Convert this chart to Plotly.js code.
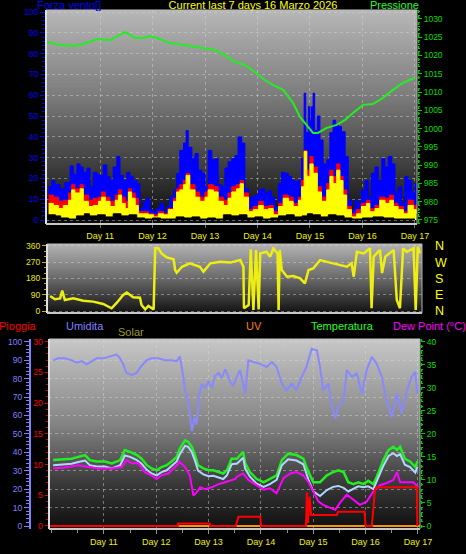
<!DOCTYPE html>
<html><head><meta charset="utf-8">
<script src="https://cdn.plot.ly/plotly-3.0.1.min.js"></script>
<style>html,body{margin:0;padding:0;background:#000;}#chart{width:466px;height:554px;}</style>
</head><body><div id="chart"></div>
<script>
// ---------- DATA ----------
const dayTicks = [11,12,13,14,15,16,17];
const dayLabels = ['Day 11','Day 12','Day 13','Day 14','Day 15','Day 16','Day 17'];

// Wind speed (max gust, blue)
const gustDays = [10.02,10.08,10.14,10.24,10.33,10.43,10.49,10.56,10.62,10.68,10.75,10.81,10.87,10.94,11.00,11.06,11.13,11.19,11.25,11.32,11.38,11.44,11.51,11.57,11.63,11.70,11.76,11.83,11.89,11.95,12.02,12.08,12.14,12.21,12.27,12.33,12.40,12.46,12.52,12.59,12.64,12.68,12.75,12.81,12.87,12.94,13.00,13.06,13.13,13.19,13.25,13.32,13.38,13.44,13.51,13.57,13.63,13.70,13.76,13.83,13.89,13.95,14.02,14.08,14.14,14.21,14.27,14.33,14.40,14.46,14.52,14.59,14.65,14.71,14.78,14.84,14.89,14.92,14.97,15.00,15.03,15.06,15.09,15.14,15.19,15.25,15.32,15.38,15.44,15.49,15.54,15.60,15.67,15.73,15.79,15.86,15.92,15.98,16.05,16.11,16.17,16.24,16.30,16.37,16.43,16.49,16.56,16.62,16.68,16.75,16.81,16.87,16.94,17.00,17.03];
const gustVals = [16,19,17,15,18,26,22,27,25.5,23,25,16,23,22,21.5,26.5,21,19,25.5,30.5,21.5,19,23,21,19,17.5,5.5,9,10.5,5,4,5.5,8,4,6.5,11,14.5,22.5,33.5,37,43,35,29.5,32,24,22.5,16,33.5,29,29.5,17,16,25,28,29.5,31,40,37,15,11,11,12,14.5,15,13,14,11,6.5,17.5,23,22.5,21,19,18.5,19,29.5,61,42,54.5,48,54.5,61,43,50,38.5,27,29,42,48,46,45,42.5,30.5,9.5,5,9.5,8,14.5,19,11,22.5,25.5,19,29.5,25.5,30.5,27,13,16,8,21,19,13,17.5,6.5];

// Wind speed (red = max speed, yellow = average)
const speedDays = [10.02,10.11,10.21,10.30,10.40,10.46,10.52,10.62,10.68,10.78,10.87,10.97,11.03,11.10,11.19,11.29,11.35,11.41,11.48,11.54,11.60,11.67,11.73,11.83,11.92,12.02,12.11,12.21,12.30,12.40,12.46,12.52,12.59,12.64,12.71,12.81,12.90,13.00,13.06,13.16,13.25,13.35,13.44,13.51,13.60,13.67,13.73,13.83,13.92,14.02,14.11,14.21,14.30,14.40,14.49,14.59,14.68,14.78,14.84,14.89,14.94,15.00,15.06,15.14,15.22,15.32,15.38,15.44,15.51,15.57,15.63,15.70,15.79,15.89,15.98,16.08,16.14,16.24,16.33,16.43,16.52,16.59,16.68,16.78,16.87,16.97,17.03];
const maxSpeedVals = [12,11,9,9.5,13,17,15,17,12,9.5,10.5,11,13.5,11,9,12,14.5,11,9,15,13,10.5,4,4,3,2.5,4,3,5.5,10.5,15,17,19,22.5,17,13.5,11,13.5,17,16,11,9.5,13,16,17,19,13,5,6.5,9,6.5,7,4,8,12,11,8,11,19,33.5,24,30.5,25.5,16,11,17.5,24,21,27,21,14.5,6.5,3,5,8,9.5,5.5,7,11,10.5,12,8,6.5,4,9.5,7,5];
const avgSpeedVals = [8,7,5.5,7,9.5,14.5,13,15,9,6.5,7,9,11,9,6.5,9.5,12,8,5.5,13.5,10.5,7,3,3,2.5,1.5,3,2.5,5,9,13.5,14.5,17,21.5,14.5,11,9,11,14.5,13.5,9,7,10.5,13.5,15,17.5,11,4,5,7,5,5.5,2.5,6.5,10.5,9,6.5,9.5,16,33,21,27,22.5,13.5,9,14.5,21,17.5,24,19,12,5,1.5,3,6.5,8,4,5.5,9.5,8,9.5,6.5,5,3,7,5,3];

// Wind speed (black = minimum)
const minDays = [10.00,10.15,10.25,10.40,10.55,10.70,10.80,10.95,11.10,11.25,11.40,11.55,11.70,11.85,12.00,12.15,12.30,12.45,12.60,12.75,12.90,13.05,13.20,13.35,13.50,13.65,13.80,13.95,14.10,14.25,14.40,14.55,14.70,14.85,14.95,15.05,15.20,15.35,15.50,15.65,15.80,16.00,16.20,16.40,16.60,16.80,17.00];
const minVals = [2.5,2,1,0.5,2,3,2,2.5,1.5,3,2,2.5,1,0.5,1,0.5,0.5,1.5,1,1.5,0.5,1,0.5,2.5,2,2.5,1,1.5,0.5,1,2,2.5,1.5,2,3,2.5,1.5,2.5,2,1,0.5,1,1.5,1,0.5,0.5,0.5];

// Pressure (hPa)
const pressDays = [9.99,10.24,10.52,10.81,10.94,11.19,11.48,11.67,11.82,11.95,12.09,12.33,12.62,12.90,13.19,13.38,13.57,13.76,13.95,14.14,14.30,14.49,14.68,14.81,14.94,15.06,15.15,15.32,15.51,15.67,15.82,16.01,16.20,16.39,16.58,16.77,16.90,17.00];
const pressVals = [1023.7,1022.9,1022.6,1023.7,1024.5,1024.2,1026.4,1024.8,1024.8,1025.3,1024.8,1023.4,1022.9,1022.3,1021.5,1020.1,1018.2,1017.4,1015.5,1013.3,1011.9,1010.6,1007.0,1003.2,1001.0,998.8,998.8,1000.2,1001.0,1002.4,1004.3,1006.5,1006.7,1008.4,1010.6,1012.5,1013.3,1013.9];

// Wind direction (degrees)
const dirDays = [10.05,10.14,10.24,10.28,10.33,10.49,10.68,10.87,11.06,11.22,11.32,11.44,11.51,11.63,11.76,11.79,11.86,11.92,12.02,12.05,12.11,12.17,12.27,12.40,12.43,12.46,12.56,12.71,12.90,12.97,13.10,13.29,13.48,13.67,13.73,13.74,13.83,13.87,13.92,13.97,14.02,14.05,14.17,14.24,14.30,14.38,14.40,14.42,14.46,14.56,14.68,14.81,14.90,14.97,15.06,15.19,15.38,15.57,15.70,15.79,15.83,15.89,16.02,16.14,16.17,16.21,16.33,16.37,16.43,16.59,16.65,16.71,16.77,16.84,16.97,17.01,17.05,17.09];
const dirVals = [83,65,70,113,61,70,57,52,39,15,46,89,102,76,74,33,9,28,9,347,347,319,297,286,227,212,245,264,245,218,264,273,268,282,245,15,33,342,6,338,9,319,328,301,347,319,6,338,227,190,194,181,153,227,236,282,268,255,245,264,190,328,319,347,15,301,338,210,301,338,61,15,347,328,347,6,356,319];
const dirTickVals = [0,90,180,270,360];
const compassLabels = ['N','E','S','W','N'];

// Humidity (%)
const humDays = [10.03,10.13,10.25,10.38,10.48,10.57,10.67,10.76,10.86,10.99,11.11,11.24,11.31,11.37,11.43,11.53,11.62,11.72,11.82,11.91,12.04,12.17,12.29,12.39,12.45,12.50,12.55,12.61,12.68,12.73,12.77,12.82,12.87,12.93,13.00,13.06,13.12,13.19,13.25,13.32,13.41,13.47,13.54,13.60,13.66,13.70,13.76,13.86,13.98,14.11,14.21,14.30,14.40,14.49,14.59,14.68,14.78,14.87,14.97,15.07,15.13,15.19,15.29,15.35,15.42,15.48,15.58,15.64,15.74,15.83,15.93,16.02,16.12,16.21,16.31,16.40,16.50,16.60,16.69,16.79,16.88,16.95,16.99];
const humVals = [90,91,91,90,88.7,89.5,87.7,89.5,91,91,92,93,91,87.7,83,82,83,87,90,91,91,90,90,89.5,92,84,73.5,68,51.5,59,55,71.5,77,75,78.6,75,81.4,83,80.5,85,78.6,76,81,84.6,77.3,71.8,89.9,89,88,86.3,89,86.3,77.3,73.7,77.3,73.7,81,86.3,96.2,95.3,86.3,73.7,77.3,66.4,58.3,64.6,68.2,84.6,81,82.8,71.8,84.6,91.8,88.2,81,68.2,59.2,71.8,61,73.7,81,83.7,71.8];

// Temperature (°C) and apparent temperature
const tempDays = [10.03,10.19,10.38,10.51,10.64,10.73,10.86,11.02,11.15,11.31,11.40,11.50,11.63,11.72,11.82,11.91,12.01,12.10,12.20,12.29,12.39,12.45,12.55,12.61,12.68,12.74,12.80,12.90,13.00,13.09,13.19,13.28,13.35,13.44,13.51,13.54,13.66,13.70,13.79,13.92,14.05,14.17,14.30,14.40,14.52,14.68,14.81,14.91,15.00,15.13,15.26,15.38,15.48,15.58,15.67,15.77,15.86,15.96,16.05,16.15,16.21,16.34,16.44,16.53,16.60,16.66,16.75,16.85,16.95,16.99];
const tempVals = [14.3,14.4,14.6,15,15.4,14.3,14,14,13.6,14.3,16.5,16.1,15.4,14.6,13.2,12.5,12.1,12.8,13.2,14,15,16.8,18.6,18.3,17.2,15.4,13.2,12.5,12.1,12.1,11.7,11.4,12.1,14.6,14.6,14.6,16.1,13.6,11.7,10.2,9.5,10.2,11,14.3,15.7,15.4,14.6,11.7,9.5,9.5,11,11.7,12.1,11.7,9.5,9.1,9.5,9.1,9.8,9.1,10.6,14.3,16.5,17.2,16.5,17.2,14.6,14,12.8,14];
const apparentVals = [13.2,13.3,13.5,13.9,14.2,13.2,12.9,12.9,12.5,13.2,15.3,15,14.3,13.5,12.2,11.4,11,11.7,12.1,13,14,15.6,17.4,17.2,16,14.2,12,11.2,10.8,10.9,10.5,10.2,11,13.4,13.5,13.5,14.8,12.4,10.7,9.2,8.5,9.1,10,13.2,14.5,14.2,13.4,10,7.5,6.5,7.8,8.5,8.7,8.3,7.5,8,8.6,8.4,8.6,8,9.5,13.1,15.2,15.8,15.2,15.6,13.3,12.8,11.6,12.8];

// Dew point (°C)
const dewDays = [10.03,10.25,10.51,10.70,10.89,11.15,11.34,11.43,11.53,11.66,11.78,11.91,12.01,12.10,12.23,12.36,12.45,12.55,12.64,12.71,12.77,12.84,12.93,13.06,13.19,13.31,13.41,13.51,13.54,13.66,13.76,13.92,14.05,14.17,14.30,14.43,14.56,14.68,14.81,14.91,15.00,15.10,15.19,15.32,15.42,15.51,15.64,15.77,15.89,16.02,16.15,16.28,16.40,16.53,16.60,16.66,16.79,16.91,17.01];
const dewVals = [12.5,12.7,13.2,12.8,12.5,12.5,12.8,14.3,13.6,13.6,11.7,11,10.2,11,11.4,12.8,13.9,12.8,11,6.6,7.3,8.4,8,8.4,9.1,9.5,9.8,10.2,10.7,11.4,10,8.9,7.9,8.2,7.1,10.4,11.4,11.7,11,9.5,7.5,5.3,4.6,3.9,3.5,5,6.8,5.7,4.6,5.3,7.5,8.9,9.3,10,11.7,9.5,9.5,9.5,8.4];

// Rain (mm)
const rainDays = [9.95,12.41,12.42,13.02,13.03,13.52,13.57,13.99,14.00,14.86,14.88,14.90,14.93,14.96,15.45,15.47,15.98,16.00,16.12,16.18,16.21,16.98,16.99];
const rainVals = [0,0,0.4,0.4,0,0,1.5,1.5,0,0,5.5,0.5,4.8,1.8,1.8,2.3,2.3,0,0,6,6.3,6.3,0];

// UV and Solar
const uvDays = [9.95,17.04];
const uvVals = [0,0];
const solarDays = [9.95,17.04];
const solarVals = [0,0];

// ---------- LAYOUT HELPERS ----------
const W = 466, H = 554;
const fx = p => p / W;
const fy = p => 1 - p / H;
const FONT = 'Liberation Sans, Arial, sans-serif';

function gradient(stops) {
  const c = document.createElement('canvas');
  c.width = 4; c.height = 256;
  const g = c.getContext('2d');
  const lg = g.createLinearGradient(0, 0, 0, 256);
  stops.forEach(s => lg.addColorStop(s[0], s[1]));
  g.fillStyle = lg; g.fillRect(0, 0, 4, 256);
  return c.toDataURL();
}
function bgImage(src, x0, x1, y0, y1) {
  return {source: src, xref: 'paper', yref: 'paper', x: fx(x0), y: fy(y0),
    sizex: fx(x1) - fx(x0), sizey: (y1 - y0) / H, sizing: 'stretch',
    xanchor: 'left', yanchor: 'top', layer: 'below'};
}
function frame(x0, x1, y0, y1) {
  return [
    {type:'line', xref:'paper', yref:'paper', x0:fx(x0), x1:fx(x0), y0:fy(y0), y1:fy(y1), line:{color:'#e0e0e0', width:2}},
    {type:'line', xref:'paper', yref:'paper', x0:fx(x0), x1:fx(x1), y0:fy(y1), y1:fy(y1), line:{color:'#c8c8c8', width:2}},
    {type:'line', xref:'paper', yref:'paper', x0:fx(x1), x1:fx(x1), y0:fy(y0), y1:fy(y1), line:{color:'#b0b0b0', width:1}},
    {type:'line', xref:'paper', yref:'paper', x0:fx(x0), x1:fx(x1), y0:fy(y0), y1:fy(y0), line:{color:'#c0c0c0', width:1}}
  ];
}
function label(text, cx, cy, color, size) {
  return {text: text, xref:'paper', yref:'paper', x: fx(cx), y: fy(cy), xanchor:'center', yanchor:'middle',
    showarrow:false, font:{family:FONT, size:size || 11, color:color}};
}

// ---------- TRACES ----------
const traces = [
  {x: gustDays, y: gustVals, xaxis:'x', yaxis:'y', type:'scatter', mode:'lines', line:{shape:'hv', width:1, color:'#0000ff'}, fill:'tozeroy', fillcolor:'#0000ff', name:'Raffica'},
  {x: speedDays, y: maxSpeedVals, xaxis:'x', yaxis:'y', type:'scatter', mode:'lines', line:{shape:'hv', width:1, color:'#ff0000'}, fill:'tozeroy', fillcolor:'#ff0000', name:'Vento max'},
  {x: speedDays, y: avgSpeedVals, xaxis:'x', yaxis:'y', type:'scatter', mode:'lines', line:{shape:'hv', width:1, color:'#ffff00'}, fill:'tozeroy', fillcolor:'#ffff00', name:'Vento medio'},
  {x: minDays, y: minVals, xaxis:'x', yaxis:'y', type:'scatter', mode:'lines', line:{shape:'hv', width:1, color:'#000000'}, fill:'tozeroy', fillcolor:'#000000', name:'Vento min'},
  {x: pressDays, y: pressVals, xaxis:'x', yaxis:'y2', type:'scatter', mode:'lines', line:{width:2, color:'#22ee22'}, name:'Pressione'},

  {x: dirDays, y: dirVals, xaxis:'x2', yaxis:'y3', type:'scatter', mode:'lines', line:{width:2.5, color:'#eeee10'}, name:'Direzione'},
  {x: [], y: [], xaxis:'x2', yaxis:'y4', type:'scatter', mode:'lines', showlegend:false, hoverinfo:'skip'},

  {x: solarDays, y: solarVals, xaxis:'x3', yaxis:'y6', type:'scatter', mode:'lines', line:{width:2, color:'#e8d000'}, name:'Solar'},
  {x: uvDays, y: uvVals, xaxis:'x3', yaxis:'y6', type:'scatter', mode:'lines', line:{width:1.5, color:'#ff8000'}, name:'UV'},
  {x: humDays, y: humVals, xaxis:'x3', yaxis:'y5', type:'scatter', mode:'lines', line:{width:2, color:'#8888ff'}, name:'Umidita'},
  {x: rainDays, y: rainVals, xaxis:'x3', yaxis:'y7', type:'scatter', mode:'lines', line:{width:2, color:'#ff0000'}, name:'Pioggia'},
  {x: tempDays, y: tempVals, xaxis:'x3', yaxis:'y6', type:'scatter', mode:'lines', line:{width:2.5, color:'#22ee22'}, name:'Temperatura'},
  {x: tempDays, y: apparentVals, xaxis:'x3', yaxis:'y6', type:'scatter', mode:'lines', line:{width:2, color:'#b0d8ff'}, name:'Percepita'},
  {x: dewDays, y: dewVals, xaxis:'x3', yaxis:'y6', type:'scatter', mode:'lines', line:{width:2, color:'#ff00ff'}, name:'Dew Point'}
];

const grid = {showgrid:true, gridcolor:'rgba(215,215,215,0.45)', griddash:'dot', gridwidth:1};
const tickf = (c, s) => ({family:FONT, size:s || 8.5, color:c});

const layout = {
  width: W, height: H, margin:{l:0, r:0, t:0, b:0}, autosize:false,
  paper_bgcolor:'#000000', plot_bgcolor:'rgba(0,0,0,0)', showlegend:false,
  font:{family:FONT, size:9, color:'#ffffff'},
  title:{text:'Current last 7 days 16 Marzo 2026', font:{family:FONT, size:11, color:'#ffff00'},
    x:fx(253), xanchor:'center', y:fy(5), yanchor:'middle', xref:'paper', yref:'paper'},

  xaxis: Object.assign({domain:[fx(46), fx(417)], range:[9.97, 17.04], anchor:'y', tickmode:'array', tickvals:dayTicks, ticktext:dayLabels,
    tickfont:tickf('#f0f000', 9), ticks:'outside', ticklen:3, tickcolor:'#707070', zeroline:false, showline:false, automargin:false}, grid),
  yaxis: Object.assign({domain:[fy(224), fy(10)], range:[-1.9, 101], anchor:'x', tickmode:'linear', tick0:0, dtick:10,
    tickfont:tickf('#0000ff'), ticks:'outside', ticklen:5, tickcolor:'#0000ff',
    minor:{dtick:2, tick0:0, ticks:'outside', ticklen:3, tickcolor:'#0000ff', showgrid:false},
    zeroline:false, showline:false, automargin:false}, grid),
  yaxis2: {overlaying:'y', side:'right', anchor:'x', range:[973.9, 1032.45], tickmode:'linear', tick0:975, dtick:5,
    tickfont:tickf('#00dd00'), ticks:'outside', ticklen:4, tickcolor:'#00cc00',
    minor:{dtick:1, tick0:975, ticks:'outside', ticklen:2, tickcolor:'#00cc00', showgrid:false},
    showgrid:false, zeroline:false, showline:false, automargin:false},

  xaxis2: {domain:[fx(47), fx(422)], range:[9.99, 17.13], anchor:'y3', showticklabels:false, ticks:'', showgrid:false, zeroline:false, automargin:false},
  yaxis3: Object.assign({domain:[fy(313), fy(244)], range:[-11, 371], anchor:'x2', tickmode:'linear', tick0:0, dtick:90,
    tickfont:tickf('#e8e800'), ticks:'outside', ticklen:4, tickcolor:'#c8b400',
    minor:{dtick:30, tick0:0, ticks:'outside', ticklen:2, tickcolor:'#c8b400', showgrid:false},
    zeroline:false, showline:false, automargin:false}, grid),
  yaxis4: {overlaying:'y3', side:'right', anchor:'x2', range:[-11, 371], tickmode:'array', tickvals:dirTickVals, ticktext:compassLabels,
    tickfont:tickf('#ffff00', 12.5), ticks:'', ticklabelstandoff:12, showgrid:false, zeroline:false, showline:false, automargin:false},

  xaxis3: Object.assign({domain:[fx(49), fx(420)], range:[9.95, 17.04], anchor:'y5', tickmode:'array', tickvals:dayTicks, ticktext:dayLabels,
    tickfont:tickf('#f0f000', 9), ticks:'outside', ticklen:4, tickcolor:'#909090',
    minor:{dtick:0.5, tick0:10, ticks:'outside', ticklen:3, tickcolor:'#909090', showgrid:false},
    zeroline:false, showline:false, automargin:false}, grid),
  yaxis5: Object.assign({domain:[fy(529), fy(339)], range:[-1.63, 101.5], anchor:'free', position:fx(30), side:'left',
    tickmode:'linear', tick0:0, dtick:10, tickfont:tickf('#8080ff'), ticks:'outside', ticklen:5, tickcolor:'#8080ff',
    minor:{dtick:2, tick0:0, ticks:'outside', ticklen:3, tickcolor:'#8080ff', showgrid:false},
    showline:true, linecolor:'#8080ff', linewidth:2, zeroline:false, automargin:false}, grid),
  yaxis6: {overlaying:'y5', side:'right', anchor:'x3', range:[-0.65, 40.59], tickmode:'linear', tick0:0, dtick:5,
    tickfont:tickf('#00dd00'), ticks:'outside', ticklen:4, tickcolor:'#00cc00',
    minor:{dtick:1, tick0:0, ticks:'outside', ticklen:2, tickcolor:'#00cc00', showgrid:false},
    showgrid:false, zeroline:false, showline:false, automargin:false},
  yaxis7: {overlaying:'y5', side:'left', anchor:'free', position:fx(48.5), range:[-0.49, 30.44], tickmode:'linear', tick0:0, dtick:5,
    tickfont:tickf('#ff0000'), ticks:'outside', ticklen:4, tickcolor:'#dd0000',
    minor:{dtick:1, tick0:0, ticks:'outside', ticklen:3, tickcolor:'#cc0000', showgrid:false},
    showgrid:false, zeroline:false, showline:false, automargin:false},

  images: [
    bgImage(gradient([[0,'#b8b8b8'],[0.4,'#7c7c7c'],[0.7,'#444444'],[1,'#0a0a0a']]), 46, 417, 10, 224),
    bgImage(gradient([[0,'#b4b4b4'],[0.5,'#6a6a6a'],[1,'#121212']]), 47, 422, 244, 313),
    bgImage(gradient([[0,'#c8c8c8'],[0.45,'#848484'],[0.75,'#3c3c3c'],[1,'#0e0e0e']]), 49, 420, 339, 529)
  ],
  shapes: [].concat(frame(46, 417, 10, 224), frame(47, 422, 244, 313), frame(49, 420, 339, 529), [
    {type:'line', xref:'paper', yref:'paper', x0:fx(418.5), x1:fx(418.5), y0:fy(10), y1:fy(224), line:{color:'#00cc00', width:1.5, dash:'dot'}},
    {type:'line', xref:'paper', yref:'paper', x0:fx(421.5), x1:fx(421.5), y0:fy(339), y1:fy(529), line:{color:'#00cc00', width:1.5, dash:'dot'}}
  ]),
  annotations: [
    label('Forza vento[]', 69, 4.5, '#0000ff'),
    label('Pressione', 394.5, 5, '#22ff22'),
    label('Pioggia', 18, 326, '#ff0000'),
    label('Umidita', 84.5, 326, '#8080ff'),
    label('Solar', 131, 331.5, '#9a9a28'),
    label('UV', 254, 326, '#ff8000'),
    label('Temperatura', 342.5, 326, '#22ff22'),
    label('Dew Point (°C)', 429, 326, '#ff00ff')
  ]
};

Plotly.newPlot('chart', traces, layout, {displayModeBar:false, staticPlot:true});
</script>
</body></html>
